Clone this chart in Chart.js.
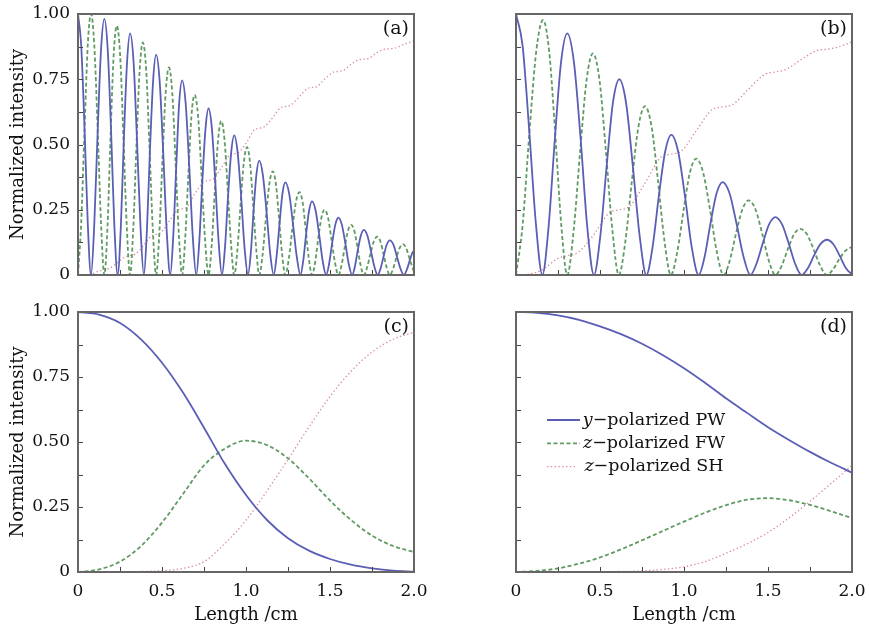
<!DOCTYPE html>
<html>
<head>
<meta charset="utf-8">
<script src="https://cdn.jsdelivr.net/npm/chart.js@4.4.0/dist/chart.umd.min.js"></script>
<style>
  body { margin: 0; background: #fff; }
  #wrap { position: relative; width: 869px; height: 630px; }
  canvas { position: absolute; }
</style>
</head>
<body>
<div id="wrap">
  <canvas id="chartA" width="434" height="295" style="left:0;top:0"></canvas>
  <canvas id="chartB" width="434" height="295" style="left:435px;top:0"></canvas>
  <canvas id="chartC" width="434" height="335" style="left:0;top:295px"></canvas>
  <canvas id="chartD" width="434" height="335" style="left:435px;top:295px"></canvas>
</div>
<script>
// tick marks (inward) and legend names
const xTickMarks = [0.25, 0.5, 0.75, 1.0, 1.25, 1.5, 1.75];
const yTickMarks = [0.125, 0.25, 0.375, 0.5, 0.625, 0.75, 0.875];
const legendNames = [['y', '\u2212polarized PW'], ['z', '\u2212polarized FW'], ['z', '\u2212polarized SH']];

// panel (a)
const aPwLength = [0, 0.019, 0.039, 0.058, 0.0775, 0.097, 0.117, 0.137, 0.157, 0.177, 0.197, 0.216, 0.236, 0.255, 0.273, 0.292, 0.310, 0.331, 0.351, 0.372, 0.392, 0.410, 0.428, 0.447, 0.465, 0.486, 0.507, 0.528, 0.549, 0.567, 0.585, 0.602, 0.620, 0.641, 0.662, 0.683, 0.704, 0.722, 0.740, 0.759, 0.777, 0.797, 0.817, 0.837, 0.857, 0.875, 0.893, 0.912, 0.930, 0.950, 0.971, 0.991, 1.012, 1.029, 1.045, 1.062, 1.079, 1.1, 1.122, 1.143, 1.165, 1.182, 1.2, 1.217, 1.234, 1.257, 1.279, 1.302, 1.324, 1.341, 1.358, 1.376, 1.393, 1.414, 1.435, 1.456, 1.477, 1.495, 1.513, 1.532, 1.55, 1.57, 1.591, 1.611, 1.632, 1.649, 1.666, 1.684, 1.701, 1.722, 1.742, 1.763, 1.784, 1.802, 1.82, 1.838, 1.856, 1.877, 1.897, 1.918, 1.939, 1.957, 1.975, 1.99, 2.0];
const aPw = [1.0, 0.88, 0.56, 0.2, 0, 0.196, 0.549, 0.863, 0.981, 0.863, 0.549, 0.196, 0, 0.185, 0.519, 0.815, 0.926, 0.815, 0.519, 0.185, 0, 0.169, 0.473, 0.743, 0.844, 0.743, 0.473, 0.169, 0, 0.149, 0.418, 0.656, 0.746, 0.656, 0.418, 0.149, 0, 0.128, 0.357, 0.561, 0.638, 0.561, 0.357, 0.128, 0, 0.107, 0.3, 0.471, 0.535, 0.471, 0.3, 0.107, 0, 0.088, 0.245, 0.385, 0.438, 0.385, 0.245, 0.088, 0, 0.071, 0.199, 0.312, 0.355, 0.312, 0.199, 0.071, 0, 0.056, 0.158, 0.248, 0.282, 0.248, 0.158, 0.056, 0, 0.044, 0.123, 0.194, 0.22, 0.194, 0.123, 0.044, 0, 0.035, 0.097, 0.152, 0.173, 0.152, 0.097, 0.035, 0, 0.027, 0.074, 0.117, 0.133, 0.117, 0.074, 0.027, 0, 0.02, 0.056, 0.085, 0.092];
const aFwLength = [0, 0.019, 0.039, 0.058, 0.0775, 0.097, 0.117, 0.137, 0.157, 0.176, 0.194, 0.212, 0.231, 0.251, 0.27, 0.29, 0.310, 0.329, 0.348, 0.367, 0.386, 0.406, 0.425, 0.445, 0.465, 0.484, 0.503, 0.522, 0.541, 0.561, 0.58, 0.6, 0.620, 0.638, 0.657, 0.675, 0.694, 0.715, 0.735, 0.756, 0.777, 0.796, 0.815, 0.834, 0.853, 0.872, 0.891, 0.911, 0.930, 0.949, 0.968, 0.987, 1.006, 1.024, 1.042, 1.061, 1.079, 1.099, 1.119, 1.139, 1.159, 1.178, 1.196, 1.215, 1.234, 1.255, 1.276, 1.297, 1.318, 1.337, 1.355, 1.374, 1.393, 1.412, 1.43, 1.449, 1.467, 1.488, 1.508, 1.529, 1.55, 1.569, 1.588, 1.607, 1.626, 1.645, 1.663, 1.682, 1.701, 1.721, 1.741, 1.761, 1.781, 1.8, 1.818, 1.837, 1.856, 1.876, 1.895, 1.915, 1.934, 1.953, 1.972, 1.99, 2.0];
const aFw = [0, 0.2, 0.56, 0.88, 1.0, 0.88, 0.56, 0.2, 0, 0.191, 0.535, 0.84, 0.955, 0.84, 0.535, 0.191, 0, 0.178, 0.499, 0.784, 0.891, 0.784, 0.499, 0.178, 0, 0.159, 0.445, 0.7, 0.795, 0.7, 0.445, 0.159, 0, 0.138, 0.386, 0.607, 0.69, 0.607, 0.386, 0.138, 0, 0.118, 0.33, 0.519, 0.59, 0.519, 0.33, 0.118, 0, 0.098, 0.274, 0.431, 0.49, 0.431, 0.274, 0.098, 0, 0.079, 0.222, 0.349, 0.397, 0.349, 0.222, 0.079, 0, 0.063, 0.178, 0.279, 0.317, 0.279, 0.178, 0.063, 0, 0.05, 0.14, 0.22, 0.25, 0.22, 0.14, 0.05, 0, 0.038, 0.108, 0.169, 0.192, 0.169, 0.108, 0.038, 0, 0.029, 0.082, 0.129, 0.147, 0.129, 0.082, 0.029, 0, 0.024, 0.066, 0.104, 0.118, 0.104, 0.066, 0.03, 0.012];
const aShLength = [0, 0.0775, 0.127, 0.157, 0.187, 0.231, 0.28, 0.31, 0.34, 0.386, 0.435, 0.465, 0.495, 0.541, 0.59, 0.62, 0.65, 0.694, 0.747, 0.777, 0.807, 0.853, 0.90, 0.93, 0.96, 1.006, 1.049, 1.079, 1.109, 1.159, 1.204, 1.234, 1.264, 1.318, 1.363, 1.393, 1.423, 1.467, 1.52, 1.55, 1.58, 1.626, 1.671, 1.701, 1.731, 1.781, 1.826, 1.856, 1.886, 1.934, 2.0];
const aSh = [0, 0.003, 0.016, 0.02, 0.025, 0.045, 0.069, 0.074, 0.08, 0.109, 0.149, 0.156, 0.163, 0.205, 0.247, 0.254, 0.261, 0.31, 0.355, 0.362, 0.369, 0.41, 0.458, 0.465, 0.472, 0.51, 0.556, 0.562, 0.568, 0.603, 0.640, 0.645, 0.650, 0.683, 0.714, 0.718, 0.722, 0.75, 0.777, 0.78, 0.784, 0.808, 0.824, 0.827, 0.830, 0.853, 0.865, 0.867, 0.869, 0.882, 0.897];

// panel (b)
const bPwLength = [0, 0.039, 0.078, 0.118, 0.157, 0.194, 0.231, 0.268, 0.305, 0.345, 0.385, 0.424, 0.464, 0.502, 0.54, 0.577, 0.615, 0.655, 0.695, 0.736, 0.776, 0.813, 0.85, 0.888, 0.925, 0.965, 1.006, 1.046, 1.087, 1.123, 1.158, 1.194, 1.23, 1.271, 1.312, 1.354, 1.395, 1.432, 1.47, 1.507, 1.544, 1.583, 1.622, 1.661, 1.70, 1.738, 1.775, 1.813, 1.851, 1.888, 1.925, 1.963, 2.0];
const bPw = [1.0, 0.88, 0.56, 0.2, 0, 0.185, 0.519, 0.815, 0.926, 0.815, 0.519, 0.185, 0, 0.15, 0.42, 0.66, 0.75, 0.66, 0.42, 0.15, 0, 0.107, 0.301, 0.473, 0.537, 0.473, 0.301, 0.107, 0, 0.071, 0.199, 0.313, 0.356, 0.313, 0.199, 0.071, 0, 0.044, 0.124, 0.195, 0.222, 0.195, 0.124, 0.044, 0, 0.027, 0.076, 0.119, 0.135, 0.119, 0.076, 0.027, 0.002];
const bFwLength = [0, 0.04, 0.08, 0.121, 0.161, 0.197, 0.233, 0.269, 0.305, 0.343, 0.382, 0.42, 0.458, 0.497, 0.535, 0.574, 0.612, 0.651, 0.69, 0.729, 0.768, 0.807, 0.845, 0.884, 0.922, 0.96, 0.998, 1.035, 1.073, 1.114, 1.155, 1.195, 1.236, 1.273, 1.31, 1.348, 1.385, 1.425, 1.465, 1.504, 1.544, 1.581, 1.618, 1.655, 1.692, 1.732, 1.771, 1.811, 1.85, 1.888, 1.925, 1.963, 2.0];
const bFw = [0, 0.195, 0.547, 0.86, 0.977, 0.86, 0.547, 0.195, 0, 0.17, 0.475, 0.747, 0.849, 0.747, 0.475, 0.17, 0, 0.129, 0.362, 0.569, 0.647, 0.569, 0.362, 0.129, 0, 0.089, 0.25, 0.392, 0.446, 0.392, 0.25, 0.089, 0, 0.057, 0.16, 0.252, 0.286, 0.252, 0.16, 0.057, 0, 0.035, 0.099, 0.156, 0.177, 0.156, 0.099, 0.035, 0, 0.022, 0.062, 0.094, 0.108];
const bShLength = [0, 0.08, 0.157, 0.245, 0.305, 0.365, 0.458, 0.555, 0.615, 0.675, 0.768, 0.865, 0.925, 0.985, 1.073, 1.17, 1.23, 1.29, 1.385, 1.485, 1.544, 1.605, 1.692, 1.79, 1.851, 1.91, 2.0];
const bSh = [0, 0.004, 0.02, 0.062, 0.074, 0.085, 0.15, 0.238, 0.25, 0.262, 0.352, 0.452, 0.463, 0.475, 0.553, 0.635, 0.644, 0.653, 0.713, 0.77, 0.778, 0.787, 0.823, 0.86, 0.865, 0.872, 0.893];

// panels (c) and (d)
const cdLength = [0, 0.125, 0.25, 0.375, 0.5, 0.625, 0.75, 0.875, 1.0, 1.125, 1.25, 1.375, 1.5, 1.625, 1.75, 1.875, 2.0];
const cPw = [1.0, 0.99, 0.958, 0.895, 0.805, 0.69, 0.555, 0.415, 0.296, 0.2, 0.13, 0.082, 0.05, 0.028, 0.014, 0.005, 0.001];
const cFw = [0, 0.01, 0.04, 0.1, 0.19, 0.3, 0.41, 0.475, 0.505, 0.488, 0.437, 0.36, 0.275, 0.2, 0.14, 0.1, 0.077];
const cSh = [0, 0, 0, 0.002, 0.005, 0.014, 0.04, 0.11, 0.199, 0.312, 0.433, 0.558, 0.675, 0.772, 0.846, 0.895, 0.922];
const dPw = [1.0, 0.997, 0.987, 0.97, 0.945, 0.915, 0.878, 0.834, 0.784, 0.728, 0.668, 0.612, 0.557, 0.508, 0.462, 0.42, 0.382];
const dFw = [0, 0.004, 0.014, 0.032, 0.056, 0.087, 0.122, 0.158, 0.194, 0.228, 0.257, 0.278, 0.284, 0.276, 0.258, 0.234, 0.207];
const dSh = [0, 0, 0, 0, 0.001, 0.002, 0.004, 0.01, 0.02, 0.04, 0.072, 0.108, 0.152, 0.208, 0.272, 0.34, 0.41];

const serif = '"DejaVu Serif", "Liberation Serif", serif';
const pwColor = '#5a5eb4';
const fwColor = '#5f9b63';
const shColor = '#d88e9a';

function points(xs, ys) {
  return xs.map((x, i) => ({ x: x, y: ys[i] }));
}

function makeSets(pw, fw, sh) {
  return [
    { data: pw, borderColor: pwColor, borderWidth: 1.8 },
    { data: fw, borderColor: fwColor, borderWidth: 1.8, borderDash: [4, 2.5] },
    { data: sh, borderColor: shColor, borderWidth: 1.3, borderDash: [1.4, 2.4] },
  ];
}

// frame, inward tick marks and the panel letter
const framePlugin = {
  id: 'frame',
  afterDatasetsDraw(chart, args, opts) {
    const { ctx, chartArea: a, scales: { x, y } } = chart;
    ctx.save();
    ctx.strokeStyle = '#444';
    ctx.lineWidth = 1;
    ctx.beginPath();
    xTickMarks.forEach((v) => {
      const px = Math.round(x.getPixelForValue(v)) + 0.5;
      ctx.moveTo(px, a.bottom);
      ctx.lineTo(px, a.bottom - 5);
    });
    yTickMarks.forEach((v) => {
      const py = Math.round(y.getPixelForValue(v)) + 0.5;
      ctx.moveTo(a.left, py);
      ctx.lineTo(a.left + 5, py);
    });
    ctx.stroke();
    ctx.strokeStyle = '#666';
    ctx.lineWidth = 2;
    ctx.strokeRect(a.left, a.top, a.right - a.left, a.bottom - a.top);
    ctx.fillStyle = '#111';
    ctx.font = '19px ' + serif;
    ctx.textAlign = 'right';
    ctx.textBaseline = 'middle';
    ctx.fillText(opts.label, a.right - 5, a.top + 15);
    ctx.restore();
  },
};

// legend of panel (d): italic letter + rest, centred
const legendPlugin = {
  id: 'curveLegend',
  afterDatasetsDraw(chart, args, opts) {
    if (!opts.show) return;
    const { ctx, chartArea: a } = chart;
    const sets = chart.data.datasets;
    const size = '17.5px ';
    ctx.save();
    legendNames.forEach((name, i) => {
      const yRow = a.top + 108 + i * 23.3;
      const ds = sets[i];
      ctx.strokeStyle = ds.borderColor;
      ctx.lineWidth = ds.borderWidth;
      ctx.setLineDash(ds.borderDash || []);
      ctx.beginPath();
      ctx.moveTo(a.left + 31, yRow);
      ctx.lineTo(a.left + (i === 2 ? 61 : 64), yRow);
      ctx.stroke();
      ctx.setLineDash([]);
      ctx.fillStyle = '#111';
      ctx.textBaseline = 'middle';
      ctx.textAlign = 'left';
      ctx.font = 'italic ' + size + serif;
      const w1 = ctx.measureText(name[0]).width;
      ctx.font = size + serif;
      const w2 = ctx.measureText(name[1]).width;
      const start = a.left + 138 - (w1 + w2) / 2;
      ctx.font = 'italic ' + size + serif;
      ctx.fillText(name[0], start, yRow);
      ctx.font = size + serif;
      ctx.fillText(name[1], start + w1, yRow);
    });
    ctx.restore();
  },
};

function makeChart(id, label, sets, isLeft, isBottom, showLegend) {
  const ctx = document.getElementById(id).getContext('2d');
  return new Chart(ctx, {
    type: 'line',
    data: { datasets: sets },
    options: {
      responsive: false,
      animation: false,
      devicePixelRatio: 1,
      events: [],
      layout: {
        padding: { top: isBottom ? 17 : 14, right: isLeft ? 20 : 17, bottom: 0, left: 0 },
      },
      elements: {
        point: { radius: 0 },
        line: { cubicInterpolationMode: 'monotone', fill: false },
      },
      plugins: {
        legend: { display: false },
        tooltip: { enabled: false },
        frame: { label: label },
        curveLegend: { show: showLegend },
      },
      scales: {
        x: {
          type: 'linear',
          min: 0,
          max: 2,
          grid: { display: false, drawTicks: false },
          border: { display: false },
          ticks: {
            display: isBottom,
            stepSize: 0.5,
            autoSkip: false,
            maxRotation: 0,
            padding: 9,
            color: '#111',
            font: { family: serif, size: 17 },
            callback: (v) => (v === 0 ? '0' : v.toFixed(1)),
          },
          title: {
            display: isBottom,
            text: 'Length /cm',
            color: '#111',
            font: { family: serif, size: 18 },
            padding: { top: 0, bottom: 4 },
          },
          afterFit: (scale) => {
            scale.height = isBottom ? 58 : 20;
            scale.paddingLeft = 0;
            scale.paddingRight = 0;
          },
        },
        y: {
          type: 'linear',
          min: 0,
          max: 1,
          grid: { display: false, drawTicks: false },
          border: { display: false },
          ticks: {
            display: isLeft,
            stepSize: 0.25,
            padding: 8,
            color: '#111',
            font: { family: serif, size: 17 },
            callback: (v) => (v === 0 ? '0' : v.toFixed(2)),
          },
          title: {
            display: isLeft,
            text: 'Normalized intensity',
            color: '#111',
            font: { family: serif, size: 18 },
            padding: { top: 8, bottom: 0 },
          },
          afterFit: (scale) => {
            scale.width = isLeft ? 78 : 81;
            scale.paddingTop = 0;
            scale.paddingBottom = 0;
          },
        },
      },
    },
    plugins: [framePlugin, legendPlugin],
  });
}

document.addEventListener('DOMContentLoaded', () => {
  makeChart('chartA', '(a)', makeSets(points(aPwLength, aPw), points(aFwLength, aFw), points(aShLength, aSh)), true, false, false);
  makeChart('chartB', '(b)', makeSets(points(bPwLength, bPw), points(bFwLength, bFw), points(bShLength, bSh)), false, false, false);
  makeChart('chartC', '(c)', makeSets(points(cdLength, cPw), points(cdLength, cFw), points(cdLength, cSh)), true, true, false);
  makeChart('chartD', '(d)', makeSets(points(cdLength, dPw), points(cdLength, dFw), points(cdLength, dSh)), false, true, true);
});
</script>
</body>
</html>
